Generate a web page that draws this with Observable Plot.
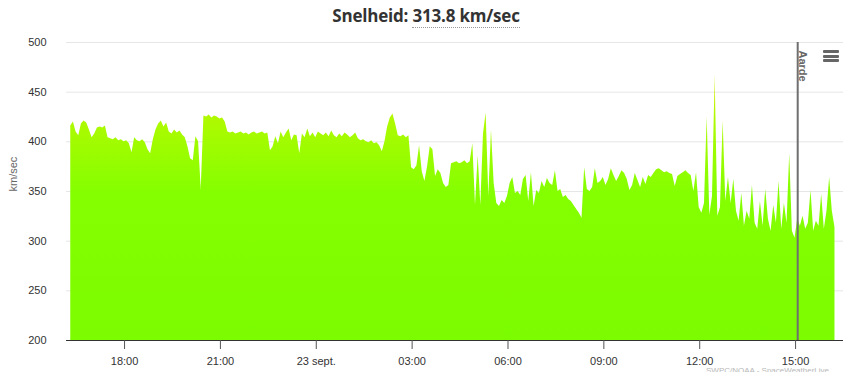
<!DOCTYPE html>
<html><head><meta charset="utf-8">
<script src="https://cdn.jsdelivr.net/npm/d3@7"></script>
<script src="https://cdn.jsdelivr.net/npm/@observablehq/plot@0.6"></script>
<style>
body{margin:0;background:#fff;font-family:"Liberation Sans",Arial,sans-serif;}
#wrap{position:relative;width:852px;height:372px;overflow:hidden;}
#chart{position:absolute;left:0;top:0;}
#title{position:absolute;left:0;width:852px;top:4px;text-align:center;font-family:"Open Sans",sans-serif;font-weight:bold;font-size:17px;letter-spacing:-0.2px;color:#333;}
#title span{border-bottom:1px dotted #999;}
#menu{position:absolute;left:823px;top:50px;width:16px;}
#menu div{height:3px;background:#666;margin-bottom:1.5px;border-radius:1px;}
#credit{position:absolute;left:706px;top:367px;font-size:8px;line-height:8px;color:#b8b8b8;white-space:nowrap;}
</style></head><body>
<div id="wrap">
<div id="chart"></div>
<div id="title">Snelheid: <span>313.8 km/sec</span></div>
<div id="menu"><div></div><div></div><div></div></div>
<div id="credit">SWPC/NOAA - SpaceWeatherLive</div>
</div>
<script>
// ---- data ----
const startTime = "2023-09-22T16:19:00Z";
const stepMinutes = 5;
const speeds = [
 416,420,410,406, 418,421,419,412, 404,408,414,415, 414,416,404,403, 402,404,401,402,
 400,401,398, 389,404,401,400,402,399,392,388,402, 412,418,421,415,419, 410,408,412,409,411,
 407,404,395,383, 381,405,400,352,426,425, 427,424,426,425,423,424,420, 410,409,410,408,409,
 410,408,409,407,409,410,408, 409,410,408,409, 391,395,405,398,410, 404,409,413,401,407,406,
 388,408,404,413,405, 409,404,410,408,406,409,405, 411,406,404,408,405,409,407,
 404,406,409,403,401,402,400, 399,401,398,399,396,390, 400,415,424,428,418,406, 405,407,404,406,
 374,372,376,396,370,360,375,395,392,365,372,368,358,354,356,
 378,379,380,378,379,381,378,380,398, 336,386,336,408,429,345,412,358,338,
 335,341,338,345, 358,364,348,350,346, 362,366,340,369,335,351,348, 360,354,363,358,356,371,
 350,352,344,346,342,340,336,332,328,323, 374,352,350,354,373,358, 360,364,356,362,373,366,360,
 365,371,368,362,351,356,368,361, 354,364,357,366,364,368, 372,373,371,369,370,368,
 367,355,365,367,369,371,368,366,
 350,369,334,328,338,425,326,345,467,325,334,421,340,364,338,362,330,
 320,348,315,330,322,356,318,312, 340,315,352,322,310,336,318,360,
 312,338,318,388,310,303,322,315, 325,312,318,351,310,320,315, 347,312,330,364,330,313.8
];
const tickTimes = ["2023-09-22T18:00:00Z","2023-09-22T21:00:00Z","2023-09-23T00:00:00Z","2023-09-23T03:00:00Z",
                   "2023-09-23T06:00:00Z","2023-09-23T09:00:00Z","2023-09-23T12:00:00Z","2023-09-23T15:00:00Z"];
const tickLabels = ["18:00","21:00","23 sept.","03:00","06:00","09:00","12:00","15:00"];
const yTicks = [200,250,300,350,400,450,500];
const aardeTime = "2023-09-23T15:04:00Z";
const aardeLabel = "Aarde";
const xDomain = ["2023-09-22T16:11:00Z","2023-09-23T16:30:00Z"];
const yDomain = [200,500];
const yLabel = "km/sec";

// ---- build ----
const t0 = new Date(startTime).getTime();
const data = speeds.map((v,i)=>({t:new Date(t0 + i*stepMinutes*60000), v}));
const tickDates = tickTimes.map(d=>new Date(d));
const labelByTime = new Map(tickDates.map((d,i)=>[+d, tickLabels[i]]));
const aarde = new Date(aardeTime);

const plot = Plot.plot({
  width:852, height:372,
  marginTop:42, marginBottom:32, marginLeft:66, marginRight:9,
  style:{fontFamily:"'Liberation Sans', Arial, sans-serif", fontSize:"11px", color:"#333", background:"transparent"},
  x:{type:"utc", domain:xDomain.map(d=>new Date(d))},
  y:{domain:yDomain},
  marks:[
    Plot.gridY(yTicks.filter(d=>d>yDomain[0]), {stroke:"#e6e6e6", strokeOpacity:1}),
    Plot.areaY(data, {x:"t", y1:yDomain[0], y2:"v", fill:"url(#speedGrad)"}),
    Plot.ruleX([aarde], {x:d=>d, stroke:"#6f6f6f", strokeWidth:2}),
    Plot.text([aardeLabel], {x:()=>aarde, frameAnchor:"top", text:d=>d, rotate:90, textAnchor:"start", dx:9, dy:8, fontWeight:"bold", fill:"#666"}),
    Plot.ruleY([yDomain[0]], {stroke:"#333"}),
    Plot.axisY({ticks:yTicks, tickSize:0, tickPadding:20, label:null, fill:"#333"}),
    Plot.axisX({ticks:tickDates, tickFormat:d=>labelByTime.get(+d), tickSize:9, tickPadding:8, label:null, stroke:"#555", fill:"#333"}),
    Plot.text([yLabel], {frameAnchor:"left", text:d=>d, dx:-53, rotate:-90, fill:"#666"})
  ]
});

const y = plot.scale("y");
const svg = d3.select(plot.tagName === "svg" ? plot : plot.querySelector("svg"));
const defs = svg.insert("defs", ":first-child");
const g = defs.append("linearGradient").attr("id","speedGrad").attr("gradientUnits","userSpaceOnUse")
  .attr("x1",0).attr("x2",0).attr("y1",y.apply(470)).attr("y2",y.apply(200));
[[0,"#e2ea1a"],[0.18,"#aefa00"],[0.45,"#84ff00"],[1,"#7cfc00"]].forEach(([o,c])=>
  g.append("stop").attr("offset",o).attr("stop-color",c));

document.getElementById("chart").appendChild(plot);
</script>
</body></html>
